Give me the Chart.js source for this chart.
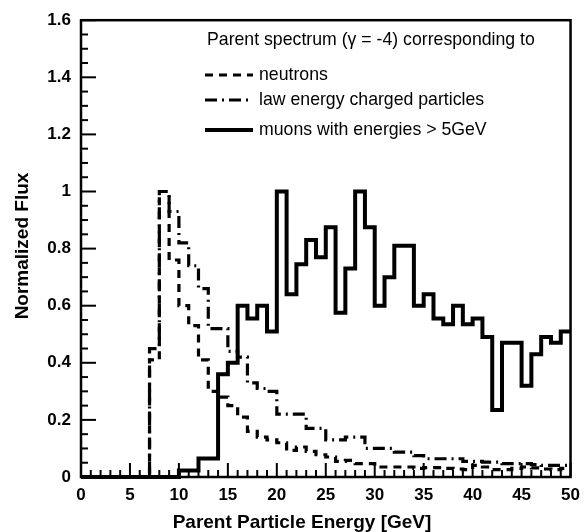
<!DOCTYPE html>
<html><head><meta charset="utf-8">
<script src="https://cdn.jsdelivr.net/npm/chart.js@4"></script>
<style>html,body{margin:0;padding:0;background:#fff}#wrap{width:588px;height:532px}</style>
</head><body><div id="wrap"><canvas id="c" width="588" height="532"></canvas></div>
<script>
// ---- data ----
const binEdges = [0,1,2,3,4,5,6,7,8,9,10,11,12,13,14,15,16,17,18,19,20,21,22,23,24,25,26,27,28,29,30,31,32,33,34,35,36,37,38,39,40,41,42,43,44,45,46,47,48,49,50];
const neutrons = [0,0,0,0,0,0,0,0.41,1.0,0.76,0.60,0.53,0.41,0.30,0.28,0.25,0.21,0.16,0.14,0.13,0.12,0.093,0.105,0.09,0.078,0.07,0.055,0.058,0.047,0.047,0.035,0.035,0.035,0.035,0.03,0.033,0.033,0.03,0.028,0.026,0.041,0.035,0.026,0.026,0.03,0.035,0.032,0.028,0.026,0.03];
const charged = [0,0,0,0,0,0,0,0.45,1.0,0.93,0.82,0.74,0.66,0.52,0.52,0.44,0.42,0.33,0.31,0.30,0.22,0.22,0.22,0.17,0.17,0.13,0.13,0.14,0.14,0.10,0.10,0.10,0.087,0.087,0.075,0.064,0.064,0.064,0.064,0.055,0.055,0.052,0.052,0.047,0.047,0.047,0.043,0.041,0.041,0.041];
const muons = [0,0,0,0,0,0,0,0,0,0,0.023,0.023,0.065,0.065,0.36,0.40,0.60,0.555,0.60,0.51,1.0,0.64,0.745,0.83,0.77,0.875,0.575,0.73,1.0,0.875,0.60,0.70,0.81,0.81,0.60,0.64,0.555,0.535,0.60,0.535,0.555,0.49,0.235,0.47,0.47,0.32,0.43,0.49,0.47,0.51];
const xTickLabels = ['0','5','10','15','20','25','30','35','40','45','50'];
const yTickLabels = ['0','0.2','0.4','0.6','0.8','1','1.2','1.4','1.6'];
const seriesNames = ['neutrons','law energy charged particles','muons with energies > 5GeV'];
const legendTitle = 'Parent spectrum (\u03b3 = -4) corresponding to';
const xTitle = 'Parent Particle Energy [GeV]';
const yTitle = 'Normalized Flux';

const FONT = "'Liberation Sans', Arial, Helvetica, sans-serif";
Chart.defaults.font.family = FONT;
Chart.defaults.color = '#000';

function histPoints(vals){
  const pts = vals.map((v,i)=>({x: binEdges[i], y: v}));
  pts.push({x: binEdges[vals.length], y: vals[vals.length-1]});
  return pts;
}

const decor = {
  id: 'decor',
  afterDatasetsDraw(chart){
    const {ctx, chartArea: a, scales: {x, y}} = chart;
    ctx.save();
    ctx.strokeStyle = '#000';
    ctx.lineWidth = 2;
    ctx.lineCap = 'butt';
    ctx.setLineDash([]);
    binEdges.forEach(e => {
      const px = x.getPixelForValue(e);
      const len = (e % 5 === 0) ? 14 : 7;
      ctx.beginPath(); ctx.moveTo(px, a.bottom); ctx.lineTo(px, a.bottom - len); ctx.stroke();
    });
    for (let k = 0; k <= 32; k++) {
      const v = k * 0.05;
      const py = y.getPixelForValue(v);
      const len = (k % 4 === 0) ? 15 : 7;
      ctx.beginPath(); ctx.moveTo(a.left, py); ctx.lineTo(a.left + len, py); ctx.stroke();
    }
    ctx.lineWidth = 2.5;
    ctx.strokeRect(a.left, a.top, a.right - a.left, a.bottom - a.top);
    ctx.restore();
  },
  afterDraw(chart){
    const {ctx} = chart;
    ctx.save();
    ctx.fillStyle = '#000';
    ctx.font = 'bold 19px ' + FONT;
    ctx.textAlign = 'center';
    ctx.textBaseline = 'alphabetic';
    ctx.fillText(xTitle, 302, 528);
    ctx.save();
    ctx.translate(28, 246);
    ctx.rotate(-Math.PI/2);
    ctx.fillText(yTitle, 0, 0);
    ctx.restore();
    ctx.font = '17.7px ' + FONT;
    ctx.textAlign = 'left';
    ctx.fillText(legendTitle, 207, 45);
    const rows = [75, 100, 130];
    const base = [80, 105, 135];
    chart.data.datasets.forEach((ds, i) => {
      ctx.strokeStyle = '#000';
      ctx.lineWidth = ds.borderWidth;
      ctx.setLineDash(ds.borderDash || []);
      ctx.beginPath(); ctx.moveTo(205, rows[i]); ctx.lineTo(253, rows[i]); ctx.stroke();
      ctx.setLineDash([]);
      ctx.fillText(seriesNames[i], 259, base[i]);
    });
    ctx.restore();
  }
};

new Chart(document.getElementById('c'), {
  type: 'line',
  data: {
    datasets: [
      {label: seriesNames[0], data: histPoints(neutrons), stepped: true, borderColor: '#000', borderWidth: 3.2, borderDash: [8, 6], pointRadius: 0, fill: false, clip: false},
      {label: seriesNames[1], data: histPoints(charged), stepped: true, borderColor: '#000', borderWidth: 3.2, borderDash: [12, 5, 2, 5], pointRadius: 0, fill: false, clip: false},
      {label: seriesNames[2], data: histPoints(muons), stepped: true, borderColor: '#000', borderWidth: 4, pointRadius: 0, fill: false, clip: false}
    ]
  },
  options: {
    responsive: false,
    animation: false,
    devicePixelRatio: 1,
    layout: {padding: {top: 18, right: 16, left: 0, bottom: 0}},
    plugins: {legend: {display: false}, tooltip: {enabled: false}, title: {display: false}},
    scales: {
      x: {
        type: 'linear', min: 0, max: 50,
        grid: {display: false, drawTicks: false},
        border: {display: false},
        ticks: {stepSize: 5, autoSkip: false, maxRotation: 0, padding: 8,
                font: {size: 17, weight: 'bold'}, color: '#000',
                callback: (v, i) => xTickLabels[i]},
        afterFit: s => { s.height = 55; }
      },
      y: {
        type: 'linear', min: 0, max: 1.6,
        grid: {display: false, drawTicks: false},
        border: {display: false},
        ticks: {stepSize: 0.2, padding: 10, font: {size: 17, weight: 'bold'}, color: '#000',
                callback: (v, i) => yTickLabels[i]},
        afterFit: s => { s.width = 81; }
      }
    }
  },
  plugins: [decor]
});
</script>
</body></html>
